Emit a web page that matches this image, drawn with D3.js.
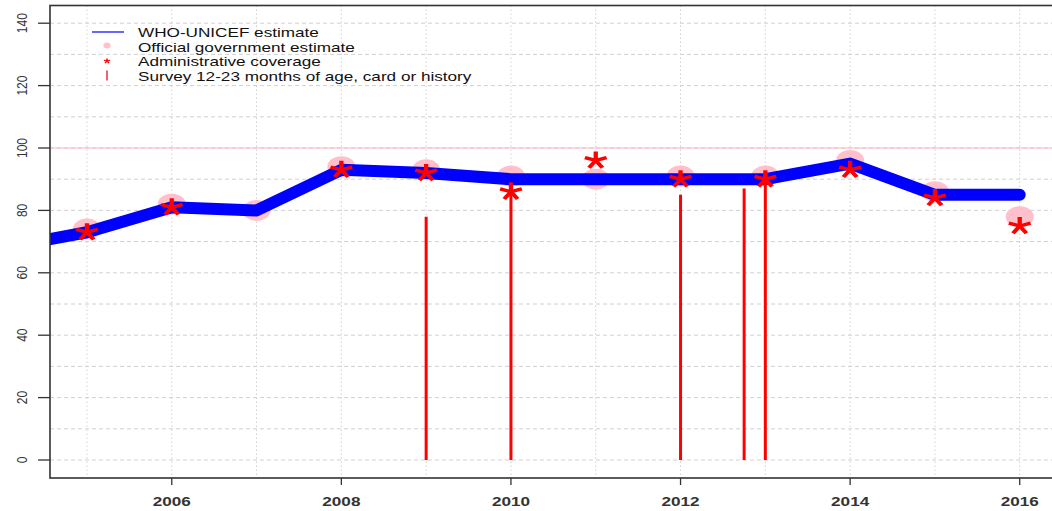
<!DOCTYPE html>
<html>
<head>
<meta charset="utf-8">
<script src="https://cdn.jsdelivr.net/npm/d3@7"></script>
<style>
  html, body { margin: 0; padding: 0; background: #fff; }
  svg { display: block; }
  text { font-family: "Liberation Sans", Arial, sans-serif; }
</style>
</head>
<body>
<svg id="chart" width="1052" height="511"></svg>
<script>
// Coverage series (percent)
const estimateYears = [2004, 2005, 2006, 2007, 2008, 2009, 2010, 2011, 2012, 2013, 2014, 2015, 2016];
const estimateValues = [68, 73, 81, 80, 93, 92, 90, 90, 90, 90, 95, 85, 85];

const officialYears = [2005, 2006, 2007, 2008, 2009, 2010, 2011, 2012, 2013, 2014, 2015, 2016];
const officialValues = [74, 82, 80, 94, 93, 91, 90, 91, 91, 96, 86, 78];

const adminYears = [2005, 2006, 2008, 2009, 2010, 2011, 2012, 2013, 2014, 2015, 2016];
const adminValues = [73, 81, 93, 92, 86, 96, 90, 90, 93, 84, 75];

const surveyYears = [2009, 2010, 2012, 2012.75, 2013];
const surveyValues = [78, 89, 85, 87, 91];

const xTickYears = [2006, 2008, 2010, 2012, 2014, 2016];
const yTickValues = [0, 20, 40, 60, 80, 100, 120, 140];
const gridYears = d3.range(2005, 2017);
const gridValues = d3.range(0, 141, 10);

const legendLabels = [
  "WHO-UNICEF estimate",
  "Official government estimate",
  "Administrative coverage",
  "Survey 12-23 months of age, card or history"
];

const STRETCH = 1.27; // horizontal aspect of text and markers

const svg = d3.select("#chart");
const plot = { left: 50, right: 1060, top: 5.5, bottom: 478 };

const x = d3.scaleLinear().domain([2004.564, 2016.475]).range([plot.left, plot.right]);
const y = d3.scaleLinear().domain([0, 140]).range([460, 23.2]);

svg.append("clipPath").attr("id", "plotClip")
  .append("rect")
  .attr("x", plot.left).attr("y", plot.top)
  .attr("width", plot.right - plot.left).attr("height", plot.bottom - plot.top);

const inner = svg.append("g").attr("clip-path", "url(#plotClip)");

// grid
inner.selectAll("line.vgrid").data(gridYears).join("line")
  .attr("class", "vgrid")
  .attr("x1", d => x(d)).attr("x2", d => x(d))
  .attr("y1", plot.top).attr("y2", plot.bottom)
  .attr("stroke", "#d0d0d0").attr("stroke-width", 1)
  .attr("stroke-dasharray", "1.5,2.5");

inner.selectAll("line.hgrid").data(gridValues).join("line")
  .attr("class", "hgrid")
  .attr("x1", plot.left).attr("x2", plot.right)
  .attr("y1", d => y(d)).attr("y2", d => y(d))
  .attr("stroke", "#d0d0d0").attr("stroke-width", 1)
  .attr("stroke-dasharray", "4,3");

// 100% reference line
inner.append("line")
  .attr("x1", plot.left).attr("x2", plot.right)
  .attr("y1", y(100)).attr("y2", y(100))
  .attr("stroke", "#ffb6c1").attr("stroke-width", 1);

// official government estimates
inner.selectAll("ellipse.official").data(officialYears).join("ellipse")
  .attr("class", "official")
  .attr("cx", d => x(d))
  .attr("cy", (d, i) => y(officialValues[i]))
  .attr("rx", 14).attr("ry", 10.5)
  .attr("fill", "#ffc0cb");

// WHO-UNICEF estimate line
const line = d3.line().x(d => x(d[0])).y(d => y(d[1]));
inner.append("path")
  .datum(estimateYears.map((yr, i) => [yr, estimateValues[i]]))
  .attr("d", line)
  .attr("fill", "none")
  .attr("stroke", "#0000ff")
  .attr("stroke-width", 12)
  .attr("stroke-linejoin", "round")
  .attr("stroke-linecap", "round");

// surveys
inner.selectAll("line.survey").data(surveyYears).join("line")
  .attr("class", "survey")
  .attr("x1", d => x(d)).attr("x2", d => x(d))
  .attr("y1", y(0))
  .attr("y2", (d, i) => y(surveyValues[i]))
  .attr("stroke", "#ff0000").attr("stroke-width", 3);

// five-armed asterisk
function starPath(r) {
  let p = "";
  for (let k = 0; k < 5; k++) {
    const a = (-90 + 72 * k) * Math.PI / 180;
    p += `M0,0L${(Math.cos(a) * r).toFixed(2)},${(Math.sin(a) * r).toFixed(2)}`;
  }
  return p;
}

inner.selectAll("path.admin").data(adminYears).join("path")
  .attr("class", "admin")
  .attr("transform", (d, i) => `translate(${x(d)},${y(adminValues[i])}) scale(${STRETCH},1)`)
  .attr("d", starPath(9))
  .attr("fill", "none")
  .attr("stroke", "#ff0000")
  .attr("stroke-width", 3.4);

// box
svg.append("rect")
  .attr("x", plot.left).attr("y", plot.top)
  .attr("width", plot.right - plot.left).attr("height", plot.bottom - plot.top)
  .attr("fill", "none").attr("stroke", "#333").attr("stroke-width", 1.6);

// x axis
const xAxis = svg.append("g");
xAxis.selectAll("line").data(xTickYears).join("line")
  .attr("x1", d => x(d)).attr("x2", d => x(d))
  .attr("y1", plot.bottom).attr("y2", plot.bottom + 7)
  .attr("stroke", "#333").attr("stroke-width", 1.3);
xAxis.selectAll("text").data(xTickYears).join("text")
  .attr("transform", d => `translate(${x(d)},506) scale(${STRETCH},1)`)
  .attr("text-anchor", "middle")
  .attr("font-size", 13.5)
  .attr("font-weight", "bold")
  .attr("fill", "#333")
  .text(d => d);

// y axis
const yAxis = svg.append("g");
yAxis.selectAll("line").data(yTickValues).join("line")
  .attr("x1", plot.left - 12).attr("x2", plot.left)
  .attr("y1", d => y(d)).attr("y2", d => y(d))
  .attr("stroke", "#333").attr("stroke-width", 1.3);
yAxis.selectAll("text").data(yTickValues).join("text")
  .attr("transform", d => `translate(26.5,${y(d)}) scale(${STRETCH},1) rotate(-90)`)
  .attr("text-anchor", "middle")
  .attr("font-size", 12)
  .attr("fill", "#333")
  .text(d => d);

// legend
const legend = svg.append("g");
const rowY = [32, 46.5, 61, 75.5];
legend.append("line")
  .attr("x1", 92).attr("x2", 124).attr("y1", rowY[0]).attr("y2", rowY[0])
  .attr("stroke", "#0000ff").attr("stroke-width", 1.2);
legend.append("ellipse")
  .attr("cx", 107).attr("cy", rowY[1] - 1).attr("rx", 3.6).attr("ry", 3)
  .attr("fill", "#ffc0cb");
legend.append("path")
  .attr("transform", `translate(107,${rowY[2]}) scale(${STRETCH},1)`)
  .attr("d", starPath(2.6))
  .attr("fill", "none").attr("stroke", "#ff0000").attr("stroke-width", 1.2);
legend.append("line")
  .attr("x1", 107).attr("x2", 107).attr("y1", rowY[3] - 5).attr("y2", rowY[3] + 5)
  .attr("stroke", "#ff3355").attr("stroke-width", 1.6);
legend.selectAll("text").data(legendLabels).join("text")
  .attr("transform", (d, i) => `translate(138,${rowY[i] + 5}) scale(${STRETCH},1)`)
  .attr("font-size", 13.5)
  .attr("fill", "#111")
  .text(d => d);
</script>
</body>
</html>
